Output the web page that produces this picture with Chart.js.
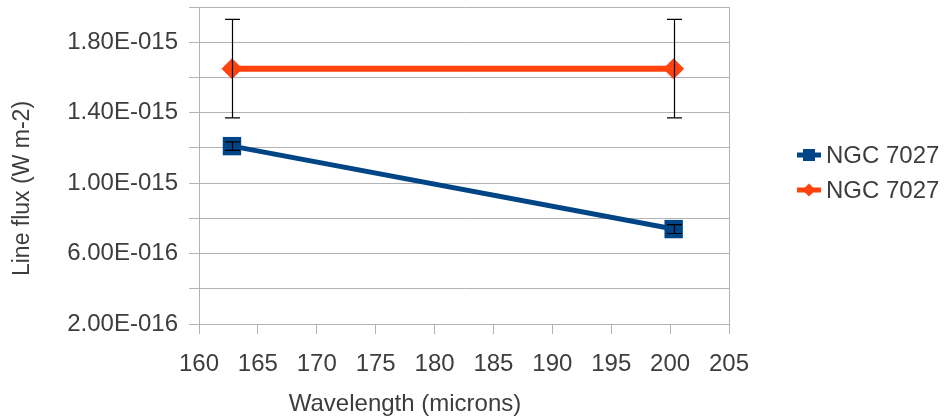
<!DOCTYPE html>
<html>
<head>
<meta charset="utf-8">
<script src="https://cdn.jsdelivr.net/npm/chart.js@4/dist/chart.umd.min.js"></script>
<style>
  html, body { margin: 0; padding: 0; background: #ffffff; }
  #wrap { width: 948px; height: 418px; }
</style>
</head>
<body>
<div id="wrap"><canvas id="chart" width="948" height="418"></canvas></div>
<script>
// Wavelengths (microns) of the two observed lines
const wavelengths = [162.8, 200.3];

// Series 1: measured line flux (W m-2) with its uncertainty
const seriesALabel = 'NGC 7027';
const seriesAFlux = [1.21e-15, 0.739e-15];
const seriesAErr = [0.024e-15, 0.025e-15];

// Series 2: line flux (W m-2) with its uncertainty
const seriesBLabel = 'NGC 7027';
const seriesBFlux = [1.65e-15, 1.65e-15];
const seriesBErr = [0.28e-15, 0.28e-15];

// Axis ticks
const xTickValues = [160, 165, 170, 175, 180, 185, 190, 195, 200, 205];
const yTickValues = [2e-16, 4e-16, 6e-16, 8e-16, 1.0e-15, 1.2e-15, 1.4e-15, 1.6e-15, 1.8e-15, 2.0e-15];

const xTitle = 'Wavelength (microns)';
const yTitle = 'Line flux (W m-2)';

const BLUE = '#004586';
const ORANGE = '#ff420e';
const GRID = '#b3b3b3';
const TEXT = '#3d3d3d';
const FONT = '"Liberation Sans", Arial, sans-serif';

function sciLabel(v) {
  const [mant, exp] = v.toExponential(2).split('e');
  const n = parseInt(exp, 10);
  const sign = n < 0 ? '-' : '+';
  return mant + 'E' + sign + String(Math.abs(n)).padStart(3, '0');
}

function points(ys) {
  return wavelengths.map((x, i) => ({ x: x, y: ys[i] }));
}

// Vertical error bars with caps, drawn on top of each series
const errorBars = {
  id: 'errorBars',
  afterDatasetsDraw(chart) {
    const ctx = chart.ctx;
    const xs = chart.scales.x, ys = chart.scales.y;
    const sets = [[seriesAFlux, seriesAErr], [seriesBFlux, seriesBErr]];
    ctx.save();
    ctx.strokeStyle = '#000000';
    ctx.lineWidth = 1.2;
    const cap = 7.5;
    sets.forEach(([vals, errs]) => {
      vals.forEach((v, i) => {
        const px = Math.round(xs.getPixelForValue(wavelengths[i])) + 0.5;
        const top = ys.getPixelForValue(v + errs[i]);
        const bot = ys.getPixelForValue(v - errs[i]);
        ctx.beginPath();
        ctx.moveTo(px, top); ctx.lineTo(px, bot);
        ctx.moveTo(px - cap, top); ctx.lineTo(px + cap, top);
        ctx.moveTo(px - cap, bot); ctx.lineTo(px + cap, bot);
        ctx.stroke();
      });
    });
    ctx.restore();
  }
};

// Axis titles and the line-and-marker legend at the right
const decorations = {
  id: 'decorations',
  afterDraw(chart) {
    const ctx = chart.ctx;
    const a = chart.chartArea;
    ctx.save();
    ctx.fillStyle = TEXT;
    ctx.textBaseline = 'middle';

    // x title
    ctx.font = '24px ' + FONT;
    ctx.textAlign = 'center';
    ctx.fillText(xTitle, a.left + 206, a.bottom + 80);

    // y title
    ctx.save();
    ctx.translate(23, (a.top + a.bottom) / 2 + 23);
    ctx.rotate(-Math.PI / 2);
    ctx.font = '23px ' + FONT;
    ctx.fillText(yTitle, 0, 0);
    ctx.restore();

    // legend
    const lx = a.right + 68;
    const mid = (a.top + a.bottom) / 2 + 7;
    const rows = [mid - 17.5, mid + 17.5];
    chart.data.datasets.forEach((ds, i) => {
      const y = rows[i];
      ctx.strokeStyle = ds.borderColor;
      ctx.fillStyle = ds.borderColor;
      ctx.lineWidth = 5;
      ctx.beginPath();
      ctx.moveTo(lx, y); ctx.lineTo(lx + 24, y);
      ctx.stroke();
      const cx = lx + 12;
      ctx.beginPath();
      if (ds.pointStyle === 'rect') {
        ctx.rect(cx - 6, y - 6, 12, 12);
      } else {
        ctx.moveTo(cx, y - 6.5); ctx.lineTo(cx + 6.5, y);
        ctx.lineTo(cx, y + 6.5); ctx.lineTo(cx - 6.5, y);
        ctx.closePath();
      }
      ctx.fill();
      ctx.fillStyle = TEXT;
      ctx.font = '24px ' + FONT;
      ctx.textAlign = 'left';
      ctx.fillText(ds.label, lx + 29, y + 1);
    });
    ctx.restore();
  }
};

function noEdgePadding(s) {
  s.paddingTop = 0; s.paddingBottom = 0;
  s.paddingLeft = 0; s.paddingRight = 0;
}

new Chart(document.getElementById('chart'), {
  type: 'scatter',
  data: {
    datasets: [
      {
        label: seriesALabel,
        data: points(seriesAFlux),
        showLine: true,
        borderColor: BLUE,
        backgroundColor: BLUE,
        borderWidth: 5,
        pointStyle: 'rect',
        pointRadius: 13,
        pointBorderWidth: 0,
        pointBackgroundColor: BLUE
      },
      {
        label: seriesBLabel,
        data: points(seriesBFlux),
        showLine: true,
        borderColor: ORANGE,
        backgroundColor: ORANGE,
        borderWidth: 6,
        pointStyle: 'rectRot',
        pointRadius: 10.5,
        pointBorderWidth: 0,
        pointBackgroundColor: ORANGE
      }
    ]
  },
  options: {
    responsive: false,
    animation: false,
    events: [],
    layout: { autoPadding: false, padding: { left: 0, right: 219, top: 7, bottom: 0 } },
    plugins: { legend: { display: false }, tooltip: { enabled: false } },
    scales: {
      x: {
        type: 'linear',
        min: 160,
        max: 205,
        afterBuildTicks: (s) => { s.ticks = xTickValues.map(v => ({ value: v })); },
        afterFit: (s) => { s.height = 94; noEdgePadding(s); },
        ticks: {
          autoSkip: false,
          maxRotation: 0,
          padding: 16,
          color: TEXT,
          font: { family: FONT, size: 24 },
          callback: (v) => String(v)
        },
        grid: {
          drawOnChartArea: true,
          color: (c) => (c.tick && c.tick.value === 205 ? GRID : 'rgba(0,0,0,0)'),
          tickColor: GRID,
          tickLength: 10,
          lineWidth: 1
        },
        border: { display: true, color: GRID, width: 1 }
      },
      y: {
        type: 'linear',
        min: 2e-16,
        max: 2e-15,
        afterBuildTicks: (s) => { s.ticks = yTickValues.map(v => ({ value: v })); },
        afterFit: (s) => { s.width = 199; noEdgePadding(s); },
        ticks: {
          autoSkip: false,
          padding: 11,
          color: TEXT,
          font: { family: FONT, size: 24 },
          callback: (v, i) => (i % 2 === 0 ? sciLabel(v) : '')
        },
        grid: {
          color: GRID,
          tickColor: GRID,
          tickLength: 10,
          lineWidth: 1
        },
        border: { display: true, color: GRID, width: 1 }
      }
    }
  },
  plugins: [errorBars, decorations]
});
</script>
</body>
</html>
